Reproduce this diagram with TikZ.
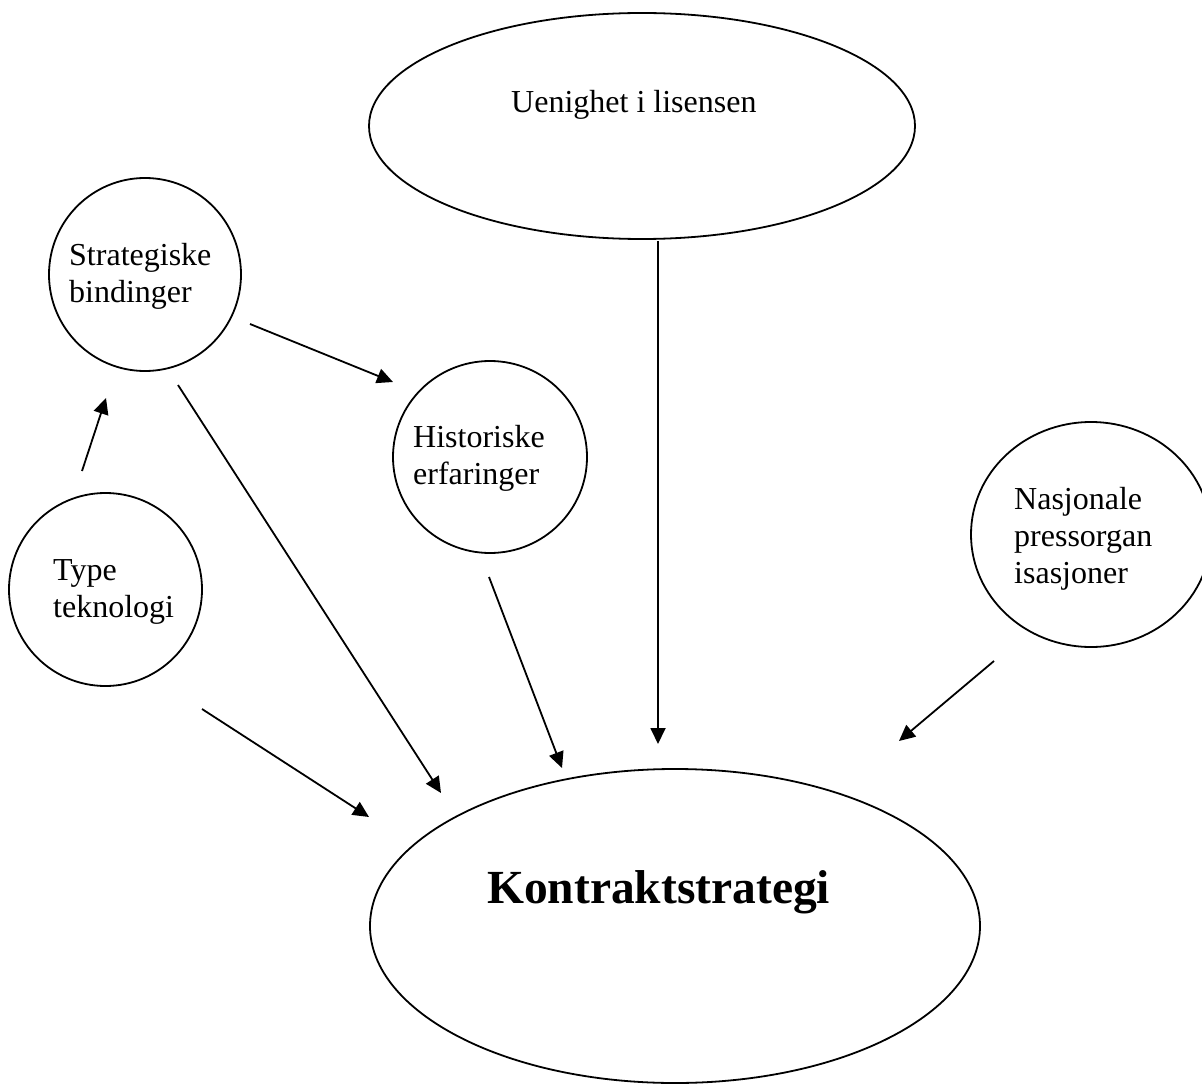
\documentclass[tikz,border=0pt]{standalone}
\usepackage{fontspec}
\setmainfont{Liberation Serif}
\usetikzlibrary{shapes.geometric,arrows.meta}

\tikzset{
  factor/.style={draw, ellipse, line width=1.8pt, inner sep=0pt, outer sep=0pt},
  % multi-line labels: "base west" sits on the baseline of the last line
  lbl/.style={anchor=base west, inner sep=0pt, align=left,
              font=\fontsize{32}{36.8}\selectfont},
  mainlbl/.style={anchor=base west, inner sep=0pt,
                  font=\fontsize{47.5}{54}\selectfont\bfseries},
  arr/.style={line width=1.8pt, -{Triangle[length=16pt,width=15pt]}}
}

\begin{document}
\begin{tikzpicture}[x=1pt, y=-1pt]
  \useasboundingbox (0,0) rectangle (1202,1086);
  \clip (0,0) rectangle (1202,1086);

  % factors
  \node[factor, minimum width=546pt, minimum height=226pt] (uenig) at (642,126) {};
  \node[factor, minimum width=192pt, minimum height=193pt] (strat) at (145,274.5) {};
  \node[factor, minimum width=194pt, minimum height=192pt] (hist) at (490,457) {};
  \node[factor, minimum width=193pt, minimum height=193pt] (type) at (105.5,589.5) {};
  \node[factor, minimum width=240pt, minimum height=225pt] (nasj) at (1091,534.5) {};
  \node[factor, minimum width=610pt, minimum height=314pt] (kontr) at (675,926) {};

  % labels
  \node[lbl] (uenigT) at (511,113) {Uenighet i lisensen};
  \node[lbl] (stratT) at (69,302) {Strategiske\\bindinger};
  \node[lbl] (histT) at (413,484) {Historiske\\erfaringer};
  \node[lbl] (typeT) at (53,617) {Type\\teknologi};
  \node[lbl] (nasjT) at (1014,583) {Nasjonale\\pressorgan\\isasjoner};
  \node[mainlbl] (kontrT) at (487,903) {Kontraktstrategi};

  % arrow end points
  \coordinate (typeS)   at (82,471);
  \coordinate (typeE)   at (106,398);
  \coordinate (strhS)   at (250,324);
  \coordinate (strhE)   at (393,382);
  \coordinate (strkS)   at (178,385);
  \coordinate (strkE)   at (441,793);
  \coordinate (histS)   at (489,577);
  \coordinate (histE)   at (562,768);
  \coordinate (uenS)    at (658,241);
  \coordinate (uenE)    at (658,744);
  \coordinate (nasjS)   at (994,661);
  \coordinate (nasjE)   at (899,741);
  \coordinate (typekS)  at (202,709);
  \coordinate (typekE)  at (369,817);

  % influences
  \draw[arr] (typeS) -- (typeE);
  \draw[arr] (strhS) -- (strhE);
  \draw[arr] (strkS) -- (strkE);
  \draw[arr] (histS) -- (histE);
  \draw[arr] (uenS) -- (uenE);
  \draw[arr] (nasjS) -- (nasjE);
  \draw[arr] (typekS) -- (typekE);
\end{tikzpicture}
\end{document}
